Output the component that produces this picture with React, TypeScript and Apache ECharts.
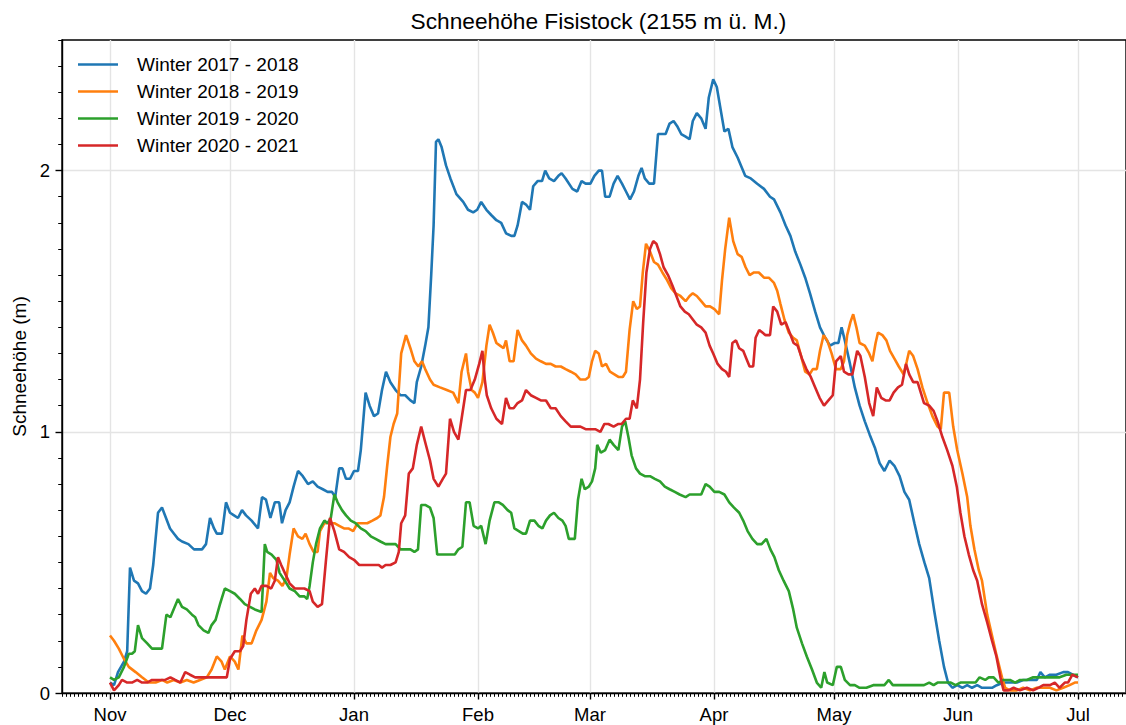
import React, { useEffect, useRef } from "react";
import * as echarts from "echarts";

// x values are days counted from 1 November
const monthLabels = ["Nov", "Dec", "Jan", "Feb", "Mar", "Apr", "May", "Jun", "Jul"];
const monthStartDays = [0, 30, 61, 92, 120, 151, 181, 212, 242];
const yTickValues = [0, 1, 2];
const seriesNames = ["Winter 2017 - 2018", "Winter 2018 - 2019", "Winter 2019 - 2020", "Winter 2020 - 2021"];
const seriesColors = ["#1f77b4", "#ff7f0e", "#2ca02c", "#d62728"];

const winter1718: number[][] = [
  [0,0.04],[1,0.03],[2,0.08],[3.5,0.12],[4.3,0.16],[5,0.48],[6,0.43],[7,0.42],[8,0.39],[9,0.38],[10,0.40],[10.8,0.49],[12,0.69],[13,0.71],[14,0.67],[15,0.63],[16,0.61],[17,0.59],[18,0.58],[19.6,0.57],[21,0.55],[22,0.55],[23,0.55],[24,0.57],[25,0.67],[26,0.63],[26.7,0.61],[28,0.61],[29,0.73],[30,0.69],[31,0.68],[32,0.67],[33,0.70],[34,0.68],[35.4,0.66],[37,0.63],[38,0.75],[39,0.74],[40.1,0.67],[41.2,0.73],[42.3,0.73],[43,0.65],[43.9,0.70],[44.9,0.73],[45.9,0.79],[47,0.85],[48.2,0.83],[49.5,0.80],[50.7,0.81],[51.9,0.79],[53.2,0.78],[54.4,0.77],[55.5,0.77],[56.3,0.75],[57.3,0.86],[58.1,0.86],[59,0.82],[60,0.82],[61,0.85],[62,0.85],[62.7,0.93],[63.9,1.15],[64.9,1.10],[66,1.06],[67,1.07],[68,1.16],[69,1.23],[70.1,1.19],[71.4,1.16],[72.6,1.14],[73.8,1.14],[75.1,1.12],[76.1,1.11],[76.7,1.19],[77.8,1.25],[78.8,1.33],[79.6,1.40],[80.3,1.60],[80.9,1.79],[81.5,2.11],[82.1,2.12],[82.9,2.09],[84,2.02],[85.1,1.97],[86.6,1.91],[88.3,1.88],[89.5,1.85],[90.8,1.84],[91.8,1.85],[92.8,1.88],[94.1,1.85],[95.3,1.83],[96.6,1.81],[97.8,1.80],[99,1.76],[100.3,1.75],[101.1,1.75],[101.9,1.79],[103,1.88],[104,1.87],[105,1.85],[105.8,1.94],[106.9,1.96],[108,1.96],[108.8,2.00],[109.8,1.97],[111,1.96],[112.1,1.98],[112.9,1.99],[113.9,1.97],[115.6,1.93],[116.8,1.92],[117.9,1.96],[118.9,1.95],[120.1,1.95],[121.1,1.98],[122.2,2.00],[123,2.00],[123.8,1.90],[124.9,1.90],[125.9,1.95],[126.9,1.98],[128,1.95],[129,1.92],[130,1.89],[131,1.92],[132.1,1.98],[132.9,2.01],[133.7,1.97],[134.8,1.95],[136,1.95],[137,2.14],[137.9,2.14],[138.9,2.14],[139.9,2.18],[140.9,2.19],[141.8,2.17],[142.8,2.14],[143.9,2.13],[144.9,2.12],[145.7,2.19],[146.7,2.22],[147.8,2.20],[148.9,2.16],[149.7,2.28],[150.8,2.35],[151.7,2.32],[152.7,2.23],[153.6,2.15],[154.6,2.16],[155.6,2.09],[156.9,2.05],[158.8,1.98],[160.2,1.97],[161.8,1.95],[163.5,1.93],[165,1.90],[166,1.89],[167.6,1.84],[168.9,1.79],[170.1,1.75],[171.3,1.69],[172.6,1.64],[173.8,1.59],[175,1.53],[176.3,1.46],[177.5,1.40],[178.8,1.36],[180,1.33],[181.2,1.34],[182.1,1.34],[182.9,1.40],[183.7,1.35],[185,1.26],[186.2,1.17],[187.4,1.10],[188.7,1.04],[189.9,0.99],[191.2,0.94],[192.4,0.88],[193.6,0.85],[194.9,0.89],[196.1,0.87],[197.4,0.83],[198.6,0.77],[199.8,0.74],[201.1,0.65],[202.3,0.57],[203.6,0.50],[204.8,0.44],[206,0.32],[207.3,0.20],[208.5,0.10],[209.5,0.04],[210.6,0.02],[211.8,0.03],[213.1,0.02],[214.3,0.03],[215.5,0.02],[216.8,0.03],[218,0.02],[219.3,0.02],[220.5,0.02],[221.7,0.03],[223.4,0.04],[225,0.04],[226.7,0.04],[228.3,0.05],[230.4,0.05],[231.7,0.05],[232.6,0.08],[233.7,0.06],[235,0.07],[236.6,0.07],[238.3,0.08],[239.5,0.08],[240.7,0.07],[242,0.06]
];

const winter1819: number[][] = [
  [0,0.22],[1,0.20],[2.2,0.17],[3.5,0.13],[4.7,0.10],[6.4,0.08],[8,0.06],[9.7,0.04],[11.4,0.04],[13,0.05],[14.3,0.04],[15.9,0.05],[17.6,0.04],[19.2,0.05],[20.9,0.04],[22.5,0.05],[24.2,0.06],[25.4,0.09],[26.7,0.14],[27.9,0.12],[28.7,0.09],[30,0.14],[31.2,0.12],[32.1,0.09],[33.1,0.22],[34.1,0.19],[35.4,0.19],[36.6,0.24],[37.9,0.28],[39.1,0.35],[40,0.46],[40.8,0.44],[42,0.43],[43.1,0.41],[44.1,0.44],[44.9,0.53],[45.9,0.63],[47,0.60],[48.1,0.59],[48.9,0.61],[49.9,0.57],[50.9,0.54],[51.9,0.54],[52.5,0.62],[53.6,0.65],[54.8,0.65],[56.1,0.65],[57.3,0.64],[58.5,0.63],[59.6,0.63],[60.8,0.62],[61.9,0.65],[63.1,0.65],[64.3,0.65],[65.6,0.66],[66.8,0.67],[67.6,0.68],[68.5,0.75],[69.3,0.87],[70.1,0.98],[70.9,1.03],[71.8,1.07],[72.8,1.30],[74,1.37],[75.1,1.32],[76.1,1.27],[77.1,1.25],[78,1.27],[78.8,1.24],[80,1.20],[80.9,1.18],[82.5,1.17],[84.2,1.16],[85.8,1.15],[87.1,1.11],[87.9,1.23],[89,1.30],[89.5,1.23],[90.4,1.16],[91.2,1.15],[92,1.13],[93.1,1.19],[94.1,1.33],[94.9,1.41],[95.7,1.38],[96.6,1.34],[97.5,1.33],[98.4,1.32],[99,1.35],[99.9,1.27],[100.9,1.27],[101.9,1.39],[103,1.35],[104,1.33],[105.2,1.30],[106.5,1.28],[107.7,1.27],[109,1.26],[110.2,1.26],[111.4,1.25],[112.7,1.25],[113.9,1.24],[115.2,1.23],[116.4,1.22],[117.6,1.20],[118.9,1.20],[119.7,1.21],[120.5,1.27],[121.3,1.31],[122.2,1.30],[123,1.25],[124,1.26],[125,1.23],[126.1,1.22],[127.1,1.21],[128.2,1.21],[129,1.23],[129.9,1.39],[130.8,1.50],[131.7,1.47],[132.5,1.48],[133.2,1.61],[134,1.72],[135,1.69],[136,1.65],[137,1.64],[138.1,1.61],[139.3,1.58],[140.3,1.55],[141.4,1.53],[142.6,1.52],[143.9,1.50],[144.9,1.52],[145.7,1.53],[146.7,1.52],[147.8,1.50],[148.9,1.48],[150,1.48],[151.1,1.47],[152.3,1.45],[153,1.58],[153.8,1.70],[154.8,1.82],[155.8,1.73],[156.9,1.68],[157.9,1.67],[158.9,1.63],[159.9,1.60],[161,1.61],[162.2,1.61],[163.5,1.59],[164.7,1.59],[166,1.57],[166.8,1.54],[167.6,1.49],[168.6,1.43],[169.7,1.38],[170.8,1.36],[171.7,1.35],[172.6,1.30],[173.8,1.23],[174.9,1.22],[175.7,1.24],[176.7,1.24],[177.5,1.31],[178.4,1.37],[179.3,1.35],[180.4,1.30],[181.5,1.24],[182.7,1.24],[183.5,1.27],[184.3,1.37],[185.1,1.42],[185.8,1.45],[186.6,1.40],[187.4,1.34],[188.7,1.33],[189.8,1.30],[190.6,1.27],[191.4,1.34],[192,1.38],[193.1,1.37],[194.1,1.35],[195,1.31],[196.1,1.28],[197.2,1.25],[198.4,1.22],[199.2,1.27],[199.8,1.31],[200.8,1.29],[201.9,1.24],[203.1,1.17],[204.4,1.11],[205.6,1.06],[206.9,1.02],[207.7,1.01],[208.5,1.15],[209.8,1.15],[210.8,1.02],[211.8,0.93],[213.1,0.84],[214.3,0.75],[215.1,0.64],[216.1,0.55],[217.2,0.47],[218,0.43],[219.3,0.30],[220.5,0.22],[221.7,0.14],[223,0.06],[223.8,0.02],[225,0.01],[226.7,0.01],[228.3,0.02],[230,0.01],[231.7,0.02],[233.3,0.02],[235,0.02],[236.6,0.01],[238.3,0.02],[239.9,0.03],[241.2,0.04],[242,0.04]
];

const winter1920: number[][] = [
  [0,0.06],[1,0.05],[2.2,0.06],[3.5,0.10],[4.7,0.15],[5.5,0.15],[6.2,0.16],[7,0.26],[8,0.21],[9.3,0.19],[10.5,0.17],[11.8,0.17],[13,0.17],[14.1,0.30],[15.1,0.29],[15.9,0.32],[17,0.36],[18,0.33],[19.2,0.32],[20.5,0.30],[21.3,0.29],[22.1,0.26],[23.4,0.24],[24.6,0.23],[25.4,0.26],[26.4,0.28],[27.5,0.34],[28.7,0.40],[30,0.39],[31.2,0.38],[32.5,0.36],[33.7,0.34],[35,0.33],[36.2,0.32],[37.9,0.31],[38.7,0.57],[39.3,0.54],[40.4,0.53],[41.6,0.51],[42.4,0.46],[43.7,0.43],[44.9,0.40],[46.2,0.39],[47.4,0.37],[48.6,0.37],[49.3,0.36],[49.9,0.41],[50.7,0.50],[51.5,0.57],[52.5,0.63],[53.6,0.66],[54.4,0.65],[55.2,0.67],[56.1,0.76],[56.9,0.73],[58,0.70],[59,0.68],[60.2,0.66],[61.4,0.65],[62.7,0.63],[63.9,0.62],[65.2,0.60],[66.4,0.59],[67.6,0.58],[68.9,0.57],[70.1,0.57],[71.4,0.57],[72.6,0.55],[73.8,0.55],[75.1,0.55],[76.1,0.54],[77,0.55],[77.8,0.72],[78.8,0.72],[80,0.71],[80.9,0.67],[81.8,0.53],[83.3,0.53],[85,0.53],[86.2,0.53],[87.1,0.55],[88.1,0.56],[89,0.73],[89.9,0.73],[90.9,0.64],[92,0.63],[92.8,0.64],[93.9,0.57],[94.9,0.66],[96.1,0.73],[97.2,0.73],[98.2,0.72],[99.4,0.70],[100.3,0.69],[101.1,0.63],[102.2,0.62],[103.2,0.61],[104,0.61],[105,0.66],[106.1,0.66],[107.1,0.64],[108.1,0.63],[109,0.66],[110,0.68],[111,0.69],[112.1,0.67],[113.1,0.66],[113.9,0.64],[114.7,0.59],[115.6,0.59],[116.2,0.59],[117,0.74],[117.9,0.82],[118.7,0.78],[119.7,0.79],[120.5,0.81],[121.3,0.86],[121.8,0.95],[122.7,0.92],[123.8,0.93],[124.9,0.97],[125.9,0.95],[127.1,0.93],[128,1.02],[128.8,1.04],[129.6,0.98],[130.4,0.91],[131.5,0.86],[132.5,0.84],[133.7,0.83],[135,0.83],[136.2,0.82],[137.5,0.81],[138.7,0.79],[139.9,0.78],[141.2,0.77],[142.4,0.76],[143.9,0.75],[144.9,0.76],[146.1,0.76],[147.8,0.76],[148.9,0.80],[149.9,0.79],[151.1,0.77],[152.3,0.77],[153.6,0.76],[154.8,0.73],[156,0.71],[157.3,0.69],[158.3,0.66],[159.4,0.62],[160.6,0.59],[161.8,0.57],[162.9,0.57],[164.1,0.59],[165.1,0.55],[166.1,0.52],[167.2,0.47],[168.4,0.43],[169.7,0.39],[170.8,0.32],[171.7,0.25],[173,0.19],[174.2,0.14],[175.5,0.09],[176.7,0.04],[177.8,0.02],[178.6,0.08],[179.3,0.04],[180.7,0.03],[181.7,0.10],[182.7,0.10],[183.7,0.05],[185,0.03],[186.2,0.03],[187.4,0.02],[189.1,0.02],[190.8,0.03],[192.4,0.03],[193.6,0.03],[194.7,0.05],[195.7,0.03],[197.4,0.03],[199,0.03],[200.7,0.03],[202.3,0.03],[203.5,0.03],[204.8,0.04],[205.9,0.03],[206.9,0.04],[208.5,0.04],[210.2,0.04],[211.4,0.03],[212.6,0.04],[213.9,0.04],[215.1,0.04],[216.4,0.04],[217.4,0.06],[218.8,0.05],[219.7,0.06],[220.9,0.06],[222.1,0.04],[223.4,0.05],[225,0.05],[226.3,0.04],[227.5,0.05],[229.2,0.05],[230.8,0.06],[232.5,0.06],[234.1,0.06],[235.8,0.06],[237.4,0.06],[239.1,0.07],[240.7,0.07],[242,0.07]
];

const winter2021: number[][] = [
  [0,0.04],[1,0.01],[2.2,0.03],[3,0.05],[4.3,0.04],[5.5,0.04],[6.8,0.05],[8,0.04],[9.3,0.04],[10.5,0.05],[12.2,0.05],[13.8,0.05],[15.1,0.06],[16.3,0.05],[17.6,0.04],[18.8,0.08],[20,0.07],[21.3,0.06],[22.9,0.06],[24.6,0.06],[26.3,0.06],[27.9,0.06],[29.2,0.06],[30,0.13],[31.2,0.16],[32.5,0.16],[33.3,0.18],[34.1,0.28],[35.2,0.38],[36.2,0.40],[37,0.38],[37.9,0.41],[39.1,0.41],[40.3,0.40],[41.2,0.43],[42,0.52],[42.8,0.49],[43.7,0.46],[44.9,0.42],[46.2,0.40],[47.4,0.40],[48.6,0.40],[49.9,0.39],[50.7,0.35],[51.9,0.33],[53,0.34],[54,0.51],[55,0.67],[56.1,0.62],[57.3,0.55],[58.5,0.54],[59.8,0.52],[61,0.51],[62.3,0.49],[63.5,0.49],[64.7,0.49],[66,0.49],[67.2,0.49],[68,0.48],[68.9,0.49],[70.1,0.49],[71.4,0.50],[72.2,0.54],[72.8,0.65],[73.8,0.68],[74.7,0.84],[75.7,0.86],[76.7,0.95],[77.8,1.02],[78.8,0.96],[80,0.89],[80.9,0.82],[82.1,0.79],[83.2,0.82],[84,0.84],[85,1.05],[86,1.00],[87.1,0.97],[87.9,1.05],[89,1.16],[90.1,1.16],[91.2,1.20],[92.3,1.26],[93.1,1.31],[93.7,1.20],[94.2,1.14],[95.3,1.09],[96.6,1.05],[98,1.03],[99,1.13],[99.9,1.09],[100.9,1.09],[101.9,1.11],[103,1.12],[104,1.16],[105.2,1.14],[106.5,1.13],[107.7,1.12],[109,1.12],[110.2,1.09],[111.4,1.09],[112.7,1.06],[113.9,1.04],[115.2,1.02],[116.4,1.02],[117.6,1.02],[118.9,1.01],[120.1,1.01],[121.3,1.01],[122.6,1.00],[123.6,1.03],[124.6,1.03],[125.9,1.02],[127.1,1.03],[127.9,1.03],[129,1.05],[129.9,1.05],[130.7,1.12],[131.7,1.09],[132.5,1.20],[133.3,1.42],[134.1,1.61],[135,1.70],[135.8,1.73],[136.6,1.72],[137.5,1.68],[138.4,1.63],[139.5,1.60],[140.6,1.56],[141.6,1.52],[142.6,1.48],[143.7,1.46],[144.7,1.45],[145.7,1.43],[146.7,1.41],[147.8,1.40],[148.9,1.38],[149.9,1.33],[150.8,1.30],[151.9,1.26],[153,1.24],[154,1.23],[154.8,1.21],[155.6,1.34],[156.5,1.35],[157.3,1.32],[158.3,1.31],[159.1,1.28],[159.9,1.25],[160.8,1.25],[161.4,1.36],[162.3,1.39],[163.1,1.38],[163.9,1.37],[165,1.37],[165.8,1.48],[166.8,1.46],[167.8,1.41],[168.9,1.42],[169.9,1.38],[170.9,1.34],[171.9,1.33],[173,1.28],[174.1,1.24],[175.2,1.21],[176.3,1.17],[177.4,1.13],[178.5,1.10],[179.6,1.12],[180.7,1.14],[181.5,1.27],[182.7,1.29],[183.5,1.23],[184.6,1.22],[185.6,1.22],[186.8,1.31],[187.6,1.29],[188.7,1.21],[189.8,1.11],[190.8,1.06],[191.7,1.17],[192.8,1.13],[193.9,1.12],[194.9,1.12],[195.9,1.15],[197,1.17],[198,1.18],[199,1.26],[199.8,1.22],[200.8,1.19],[201.9,1.19],[203.5,1.11],[204.8,1.10],[205.9,1.08],[206.9,1.04],[208.1,0.98],[209.3,0.93],[210.6,0.87],[211.7,0.79],[212.6,0.69],[213.6,0.60],[214.7,0.53],[215.8,0.47],[216.8,0.43],[218,0.34],[219.3,0.27],[220.5,0.20],[221.6,0.14],[222.6,0.06],[223.4,0.01],[224.6,0.01],[225.9,0.02],[227.5,0.01],[229.2,0.02],[230.8,0.01],[232.1,0.02],[233.3,0.03],[235,0.03],[236.2,0.04],[237.4,0.02],[238.7,0.04],[239.5,0.04],[240.6,0.07],[242,0.06]
];

const seriesData = [winter1718, winter1819, winter1920, winter2021];

const FONT = "'Liberation Sans', Arial, Helvetica, sans-serif";
const TICK_FONT = 18.5;
const LABEL_FONT = 19;

export default function App() {
  const ref = useRef<HTMLDivElement>(null);

  useEffect(() => {
    if (!ref.current) return;
    const chart = echarts.init(ref.current, null, { renderer: "svg" });
    const axisLineStyle = { color: "#000", width: 1.4 };

    chart.setOption({
      animation: false,
      backgroundColor: "#fff",
      textStyle: { fontFamily: FONT },
      graphic: [
        {
          type: "text",
          x: 598.5,
          y: 21,
          style: {
            text: "Schneehöhe Fisistock (2155 m ü. M.)",
            fontFamily: FONT,
            fontSize: 22.7,
            fill: "#000",
            textAlign: "center",
            textVerticalAlign: "middle",
          },
        },
      ],
      grid: {
        left: 62,
        top: 40,
        width: 1073,
        height: 653,
        show: true,
        borderColor: "#000",
        borderWidth: 1.4,
        backgroundColor: "transparent",
      },
      legend: {
        orient: "vertical",
        left: 78,
        top: 55,
        padding: 0,
        icon: "rect",
        itemWidth: 40,
        itemHeight: 2.6,
        itemGap: 8,
        data: seriesNames,
        textStyle: {
          fontFamily: FONT,
          fontSize: LABEL_FONT,
          color: "#000",
          padding: [0, 0, 0, 14],
        },
      },
      xAxis: [
        {
          type: "value",
          min: -12,
          max: 254,
          position: "bottom",
          axisLine: { show: true, onZero: false, lineStyle: axisLineStyle },
          axisTick: {
            show: true,
            customValues: monthStartDays,
            length: 6.5,
            lineStyle: axisLineStyle,
          },
          axisLabel: {
            show: true,
            customValues: monthStartDays,
            formatter: (v: number) => {
              const i = monthStartDays.indexOf(Math.round(v));
              return i >= 0 ? monthLabels[i] : "";
            },
            fontFamily: FONT,
            fontSize: TICK_FONT,
            color: "#000",
            margin: 12,
          },
          splitLine: { show: true, lineStyle: { color: "#e4e4e4", width: 1.4 } },
        },
        {
          type: "value",
          min: -12,
          max: 254,
          interval: 1,
          position: "bottom",
          axisLine: { show: false, onZero: false },
          axisTick: { show: true, length: 3.8, lineStyle: { color: "#000", width: 1 } },
          axisLabel: { show: false },
          splitLine: { show: false },
        },
      ],
      yAxis: [
        {
          type: "value",
          min: 0,
          max: 2.5,
          position: "left",
          name: "Schneehöhe (m)",
          nameLocation: "middle",
          nameRotate: 90,
          nameGap: 28,
          nameTextStyle: { fontFamily: FONT, fontSize: LABEL_FONT, color: "#000" },
          axisLine: { show: true, onZero: false, lineStyle: axisLineStyle },
          axisTick: {
            show: true,
            customValues: yTickValues,
            length: 6.5,
            lineStyle: axisLineStyle,
          },
          axisLabel: {
            show: true,
            customValues: yTickValues,
            fontFamily: FONT,
            fontSize: TICK_FONT,
            color: "#000",
            margin: 12,
          },
          splitLine: { show: true, lineStyle: { color: "#e4e4e4", width: 1.4 } },
        },
        {
          type: "value",
          min: 0,
          max: 2.5,
          interval: 0.1,
          position: "left",
          axisLine: { show: false, onZero: false },
          axisTick: { show: true, length: 3.8, lineStyle: { color: "#000", width: 1 } },
          axisLabel: { show: false },
          splitLine: { show: false },
        },
      ],
      series: seriesNames.map((name, i) => ({
        name,
        type: "line",
        xAxisIndex: 0,
        yAxisIndex: 0,
        data: seriesData[i],
        symbol: "none",
        showSymbol: false,
        color: seriesColors[i],
        lineStyle: { width: 2.6, color: seriesColors[i] },
        z: 3,
      })),
    });

    return () => {
      chart.dispose();
    };
  }, []);

  return (
    <div
      ref={ref}
      style={{ position: "fixed", left: 0, top: 0, width: 1126, height: 725, background: "#fff" }}
    />
  );
}
